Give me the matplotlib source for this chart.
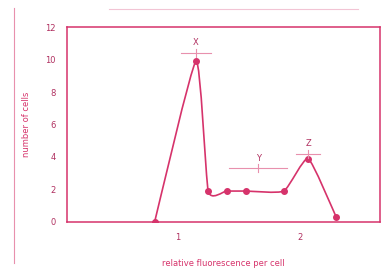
import numpy as np
import matplotlib.pyplot as plt
from matplotlib.path import Path
from matplotlib.patches import PathPatch
from matplotlib.lines import Line2D

# data
fluor = [0.81, 1.15, 1.25, 1.40, 1.56, 1.87, 2.07, 2.30]
cells = [0.0, 9.9, 1.9, 1.9, 1.9, 1.9, 3.9, 0.3]
peak_names = ['X', 'Y', 'Z']
peak_x = [1.15, 1.66, 2.07]
peak_y = [10.4, 3.3, 4.2]
peak_half = [0.12, 0.24, 0.10]

col = '#d6336b'
light = '#e890ad'

fig = plt.figure(figsize=(3.89, 2.68), dpi=100)
ax = fig.add_axes([0.172, 0.172, 0.805, 0.727])

# smooth curve through the points (loose catmull-rom as cubic beziers)
pts = np.column_stack([fluor, cells])
verts = [pts[0]]
codes = [Path.MOVETO]
k = 12
for i in range(len(pts) - 1):
    p0 = pts[max(i - 1, 0)]
    p1 = pts[i]
    p2 = pts[i + 1]
    p3 = pts[min(i + 2, len(pts) - 1)]
    verts += [p1 + (p2 - p0) / k, p2 - (p3 - p1) / k, p2]
    codes += [Path.CURVE4] * 3
ax.add_patch(PathPatch(Path(verts, codes), fill=False, edgecolor=col, lw=1.2))
ax.plot(fluor, cells, 'o', color=col, ms=4)

for name, px, py, h in zip(peak_names, peak_x, peak_y, peak_half):
    ax.plot([px - h, px + h], [py, py], color=light, lw=0.8)
    ax.plot([px, px], [py - 0.25, py + 0.25], color=light, lw=0.8)
    ax.text(px, py + 0.35, name, color='#b03060', fontsize=6, ha='center', va='bottom')

ax.set_xlim(0.09, 2.66)
ax.set_ylim(0, 12)
ax.set_xticks([1, 2])
ax.set_yticks(range(0, 13, 2))
ax.tick_params(length=0, labelsize=6, labelcolor='#b03060', pad=8)
for s in ax.spines.values():
    s.set_color(col)
    s.set_linewidth(1.1)
ax.set_xlabel('relative fluorescence per cell', fontsize=6, color=col, labelpad=12)
ax.set_ylabel('number of cells', fontsize=6, color=col, labelpad=10)

# page border from the scan
fig.add_artist(Line2D([0.036, 0.036], [0.02, 0.97], color=light, lw=0.8))
fig.add_artist(Line2D([0.28, 0.92], [0.965, 0.965], color='#f2c4d4', lw=0.8))

fig.savefig('out.png', dpi=100)
